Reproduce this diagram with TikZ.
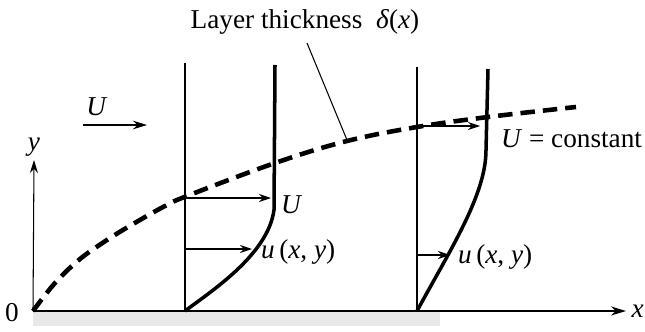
\documentclass[tikz,border=0pt]{standalone}
\usepackage{fontspec}
\setmainfont{Liberation Serif}
\usepackage{tikz}
\usetikzlibrary{arrows.meta, positioning}
\tikzset{every node/.append style={inner sep=1pt}}

\begin{document}
\begin{tikzpicture}[x=0.02cm, y=-0.02cm,
    font=\fontsize{15.5}{18}\selectfont,
    thin line/.style={line width=0.6pt},
    profile/.style={line width=2pt},
    edge/.style={line width=2.6pt, dash pattern=on 0.29cm off 0.16cm},
    vel/.style={line width=0.6pt, -{Stealth[length=2.4mm, width=1.6mm]}},
    lbl/.style={inner sep=1pt}]
\useasboundingbox (0,0) rectangle (645,331);
% ground
\fill[black!9] (33,311) rectangle (440,326);
% axes
\coordinate (o) at (33,311);
\coordinate (ytip) at (34,160);
\coordinate (xtip) at (626,311);
\draw[thin line, -{Stealth[length=2.6mm, width=1.6mm]}] (o) -- (ytip);
\draw[line width=1.1pt, -{Stealth[length=3mm, width=1.8mm]}] (o) -- (xtip);
\node[lbl] (o-lbl) at (12,313) {0};
\node[lbl, above=1pt of ytip] (y-lbl) {\textit{y}};
\node[lbl, right=2pt of xtip] (x-lbl) {\textit{x}};
% free stream
\coordinate (u0) at (83,125);
\coordinate (u1) at (147,125);
\draw[line width=1.1pt, -{Stealth[length=2.8mm, width=1.7mm]}] (u0) -- (u1);
\node[lbl] (free-lbl) at (97,107) {\textit{U}};
% first station
\coordinate (a0) at (185,311);
\coordinate (atop) at (185,63);
\coordinate (b1) at (274,210);
\coordinate (btop) at (275,65);
\draw[thin line] (a0) -- (atop);
\draw[profile] (a0) .. controls (210,292) and (268,255) .. (b1) -- (btop);
\coordinate (a1) at (185,198);
\coordinate (a1e) at (271,198);
\coordinate (a2) at (185,249);
\coordinate (a2e) at (252,249);
\draw[vel] (a1) -- (a1e);
\draw[vel] (a2) -- (a2e);
\node[lbl, anchor=west] (u-edge) at (279,205) {\textit{U}};
\node[lbl, anchor=west] (u-one) at (259,252) {\textit{u}\,(\textit{x}, \textit{y})};
% second station
\coordinate (c0) at (417,311);
\coordinate (ctop) at (417,67);
\coordinate (d1) at (486,150);
\coordinate (dtop) at (488,69);
\draw[thin line] (c0) -- (ctop);
\draw[profile] (c0) .. controls (450,250) and (486,195) .. (d1) -- (dtop);
\coordinate (c1) at (417,126);
\coordinate (c1e) at (480,126);
\coordinate (c2) at (417,255);
\coordinate (c2e) at (450,255);
\draw[vel] (c1) -- (c1e);
\draw[vel] (c2) -- (c2e);
\node[lbl, anchor=west] (u-const) at (499,139) {\textit{U} = constant};
\node[lbl, anchor=west] (u-two) at (456,257) {\textit{u}\,(\textit{x}, \textit{y})};
% boundary layer edge
\draw[edge] plot[smooth, tension=0.6] coordinates {(33,311) (55,283) (80,259) (107,240)
    (133,224) (165,206) (187,196) (275,163) (347,141) (417,127) (488,117) (576,107)};
% leader
\node[lbl] (title) at (305,22) {Layer thickness\ \ \textit{δ}(\textit{x})};
\coordinate (lead0) at (307,43);
\coordinate (lead1) at (347,140);
\draw[thin line] (lead0) -- (lead1);
\end{tikzpicture}
\end{document}
